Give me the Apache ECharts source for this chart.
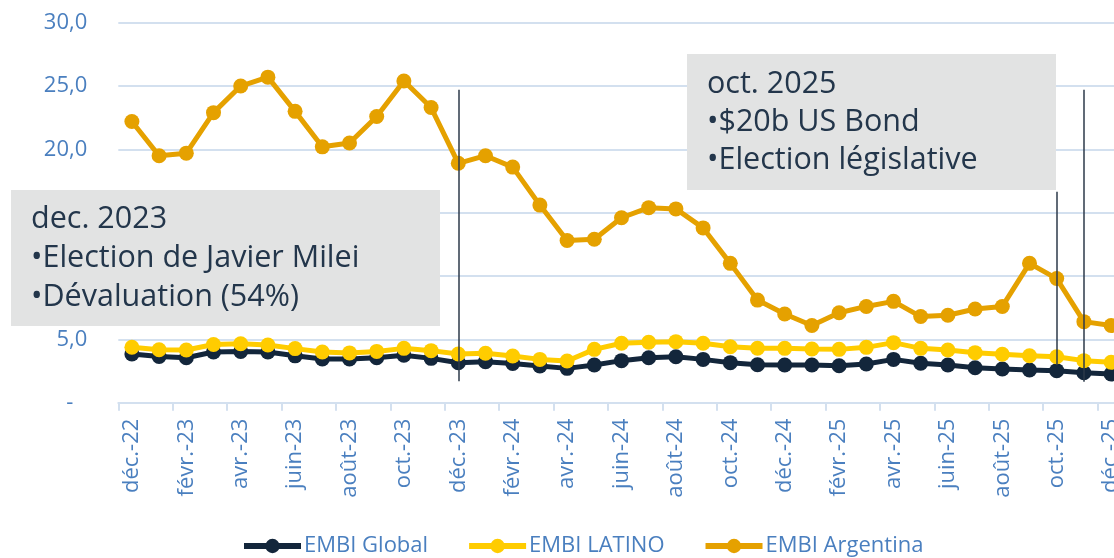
<!DOCTYPE html>
<html>
<head>
<meta charset="utf-8">
<script src="https://cdn.jsdelivr.net/npm/echarts@6/dist/echarts.min.js"></script>
<style>
html,body{margin:0;padding:0;background:#fff;}
#chart{width:1114px;height:558px;}
</style>
</head>
<body>
<div id="chart"></div>
<script>
var months = ['déc.-22','janv.-23','févr.-23','mars-23','avr.-23','mai-23','juin-23','juil.-23','août-23','sept.-23','oct.-23','nov.-23',
  'déc.-23','janv.-24','févr.-24','mars-24','avr.-24','mai-24','juin-24','juil.-24','août-24','sept.-24','oct.-24','nov.-24',
  'déc.-24','janv.-25','févr.-25','mars-25','avr.-25','mai-25','juin-25','juil.-25','août-25','sept.-25','oct.-25','nov.-25','déc.-25'];

var embiGlobal = [3.85,3.65,3.55,4.0,4.05,4.0,3.7,3.45,3.45,3.55,3.75,3.5,
  3.16,3.24,3.1,2.9,2.71,2.98,3.32,3.55,3.63,3.42,3.16,3.0,
  2.98,2.98,2.92,3.05,3.42,3.11,2.98,2.76,2.66,2.58,2.53,2.37,2.27];

var embiLatino = [4.38,4.18,4.16,4.6,4.65,4.55,4.27,4.0,3.93,4.05,4.29,4.11,
  3.84,3.9,3.69,3.42,3.29,4.21,4.69,4.77,4.82,4.69,4.42,4.3,
  4.29,4.24,4.21,4.37,4.74,4.29,4.16,3.95,3.82,3.71,3.63,3.32,3.19];

var embiArgentina = [22.2,19.5,19.7,22.9,25.0,25.7,23.0,20.2,20.5,22.6,25.4,23.3,
  18.9,19.5,18.6,15.6,12.8,12.9,14.6,15.4,15.3,13.8,11.0,8.1,
  7.0,6.1,7.1,7.6,8.0,6.8,6.9,7.4,7.6,11.0,9.8,6.4,6.1];

var seriesNames = ['EMBI Global','EMBI LATINO','EMBI Argentina'];

// vertical event lines: [category, top value, bottom value]
var eventLines = [['déc.-23',24.7,1.7],['oct.-25',16.65,3.0],['nov.-25',24.7,1.65]];

var note1 = ['dec. 2023','•Election de Javier Milei','•Dévaluation (54%)'];
var note2 = ['oct. 2025','•$20b US Bond','•Election législative'];

var blue = '#4a7fbf';
var gridColor = '#d3e0ef';
var textDark = '#23364b';
var font = '"Open Sans", "Noto Sans", sans-serif';

var chart = echarts.init(document.getElementById('chart'), null, {renderer:'canvas'});

function mkSeries(name, data, color, extra){
  var s = {
    name: name, type: 'line', data: data,
    symbol: 'circle', symbolSize: 15, showAllSymbol: true,
    lineStyle: {color: color, width: 5},
    itemStyle: {color: color},
    emphasis: {disabled: true},
    animation: false
  };
  for (var k in extra) s[k] = extra[k];
  return s;
}

var option = {
  backgroundColor: '#ffffff',
  animation: false,
  grid: {left: 118.3, width: 1006.4, top: 22.7, bottom: 155.3, containLabel: false, outerBoundsMode: 'none'},
  legend: {
    data: seriesNames,
    left: 236, top: 530,
    itemWidth: 57, itemHeight: 18, itemGap: 38,
    lineStyle: {width: 6},
    textStyle: {color: blue, fontSize: 22, fontFamily: font, padding: [0,0,0,-2]},
    selectedMode: false
  },
  xAxis: {
    type: 'category', data: months, boundaryGap: true,
    axisLine: {show: true, lineStyle: {color: gridColor, width: 2}},
    axisTick: {show: true, interval: 1, length: 8, lineStyle: {color: gridColor, width: 2}},
    axisLabel: {interval: 1, rotate: 90, color: blue, fontSize: 22, fontFamily: font, margin: 16},
    splitLine: {show: false}
  },
  yAxis: {
    type: 'value', min: 0, max: 30, interval: 5,
    axisLine: {show: false}, axisTick: {show: false},
    splitLine: {lineStyle: {color: gridColor, width: 2}},
    axisLabel: {
      color: blue, fontSize: 22, fontFamily: font, margin: 31,
      formatter: function(v){ return v === 0 ? '{d|-}' : v.toFixed(1).replace('.', ','); },
      rich: {d: {color: blue, fontSize: 22, fontFamily: font, padding: [0,14,0,0]}}
    }
  },
  series: [
    mkSeries(seriesNames[0], embiGlobal, '#13263b', {}),
    mkSeries(seriesNames[1], embiLatino, '#ffcc00', {}),
    mkSeries(seriesNames[2], embiArgentina, '#e5a100', {
      markLine: {
        silent: true, symbol: ['none','none'], z: 10,
        label: {show: false},
        lineStyle: {color: '#2c3a4a', width: 1.5, type: 'solid'},
        data: eventLines.map(function(e){ return [{coord: [e[0], e[1]]}, {coord: [e[0], e[2]]}]; })
      }
    })
  ],
  graphic: [
    {type: 'rect', z: 100, shape: {x: 11, y: 190, width: 429, height: 136}, style: {fill: '#e2e3e3'}},
    {type: 'text', z: 101, x: 31, y: 200, style: {text: note1.join('\n'), fill: textDark, font: '30.5px ' + font, lineHeight: 39, textVerticalAlign: 'top'}},
    {type: 'rect', z: 100, shape: {x: 687, y: 54, width: 369, height: 136}, style: {fill: '#e2e3e3'}},
    {type: 'text', z: 101, x: 707, y: 65, style: {text: note2.join('\n'), fill: textDark, font: '30.5px ' + font, lineHeight: 38, textVerticalAlign: 'top'}}
  ]
};
chart.setOption(option);
</script>
</body>
</html>
